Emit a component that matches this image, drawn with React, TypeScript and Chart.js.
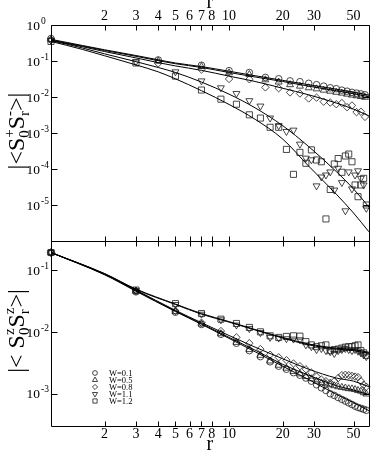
import React, { useEffect, useRef } from 'react';
import { Chart, registerables } from 'chart.js';

Chart.register(...registerables);

const FONT = '"Liberation Serif", "DejaVu Serif", "Times New Roman", serif';

// ---- axes / tick labels ----
const X_TICKS = [2, 3, 4, 5, 6, 7, 8, 10, 20, 30, 50];
const TOP_DECADES = [1, 0.1, 0.01, 0.001, 0.0001, 0.00001];
const TOP_EXP = ['0', '-1', '-2', '-3', '-4', '-5'];
const BOT_DECADES = [0.1, 0.01, 0.001];
const BOT_EXP = ['-1', '-2', '-3'];
const LEGEND_LABELS = ['W=0.1', 'W=0.5', 'W=0.8', 'W=1.1', 'W=1.2'];

// ---- r grids ----
const R_STEP3 = [1, 4, 7, 10, 13, 16, 19, 22, 25, 28, 31, 34, 37, 40, 43, 46, 49, 52, 55, 58];
const R_ODD = [1, 3, 5, 7, 9, 11, 13, 15, 17, 19, 21, 23, 25, 27, 29, 31, 33, 35, 37, 39, 41, 43, 45, 47, 49, 51, 53, 55, 57, 59];
const R_FIT_TOP = [1, 1.5, 2, 3, 4, 5, 7, 10, 14, 20, 28, 40, 50, 61];
const R_FIT_BOT = [1, 2, 3, 5, 7, 10, 14, 20, 28, 40, 50, 61];

// ---- top panel: |<S+_0 S-_r>| ----
const TOP_W01 = [0.42, 0.107, 0.076, 0.054, 0.048, 0.035, 0.032, 0.028, 0.0266, 0.024, 0.022, 0.020, 0.018, 0.017, 0.0155, 0.0145, 0.0135, 0.0128, 0.0122, 0.0115];
const TOP_W05 = [0.39, 0.100, 0.070, 0.047, 0.042, 0.030, 0.026, 0.022, 0.020, 0.018, 0.0168, 0.0155, 0.0145, 0.0135, 0.0128, 0.012, 0.0113, 0.0108, 0.0103, 0.0098];
const TOP_W08 = [0.38, 0.086, 0.058, 0.0316, 0.031, 0.0185, 0.0175, 0.0134, 0.0125, 0.0091, 0.0096, 0.0074, 0.0070, 0.0063, 0.0068, 0.0052, 0.0058, 0.0038, 0.0039, 0.0028];
const TOP_W11 = [0.38, 0.096, 0.050, 0.028, 0.018, 0.0125, 0.0079, 0.0056, 0.0026, 0.0016, 0.0011, 0.0012, 0.00049, 0.00020, 0.00018, 0.000034, 0.00006, 0.000068, 0.000083, 0.000026, 0.000105, 0.000042, 0.0000069, 0.000083, 0.000028, 0.000068, 0.000089, 0.000055, 0.000036, 0.0000081];
const TOP_W12 = [0.35, 0.088, 0.038, 0.0156, 0.0087, 0.0063, 0.0032, 0.0026, 0.00144, 0.00144, 0.00035, 0.000071, 0.00029, 0.000144, 0.00034, 0.000178, 0.000159, 0.0000041, 0.000027, 0.000138, 0.000195, 0.000081, 0.00023, 0.00026, 0.000159, 0.000036, 0.000017, 0.000036, 0.000055, 0.00001];

const FIT_TOP_W01 = [0.40, 0.27, 0.205, 0.142, 0.108, 0.088, 0.070, 0.052, 0.039, 0.029, 0.022, 0.0165, 0.0135, 0.0113];
const FIT_TOP_W05 = [0.38, 0.26, 0.196, 0.135, 0.102, 0.084, 0.066, 0.048, 0.036, 0.027, 0.020, 0.015, 0.0123, 0.0102];
const FIT_TOP_W08 = [0.37, 0.25, 0.183, 0.122, 0.090, 0.073, 0.055, 0.038, 0.027, 0.0175, 0.0115, 0.0068, 0.0046, 0.0030];
const FIT_TOP_W11 = [0.37, 0.23, 0.158, 0.096, 0.066, 0.048, 0.026, 0.012, 0.005, 0.0016, 0.00042, 0.000085, 0.000028, 0.0000088];
const FIT_TOP_W12 = [0.35, 0.21, 0.14, 0.078, 0.050, 0.032, 0.015, 0.0062, 0.0024, 0.00068, 0.00012, 0.00002, 0.000006, 0.0000018];

// ---- bottom panel: |<Sz_0 Sz_r>| ----
const BOT_W01 = [0.195, 0.045, 0.021, 0.0133, 0.0092, 0.0066, 0.0050, 0.0040, 0.0033, 0.0028, 0.0025, 0.0022, 0.0020, 0.0018, 0.0016, 0.0014, 0.00125, 0.00113, 0.00100, 0.00094, 0.00087, 0.00081, 0.00076, 0.00071, 0.00067, 0.00063, 0.00060, 0.00058, 0.00056, 0.00054];
const BOT_W05 = [0.195, 0.046, 0.0215, 0.0135, 0.0094, 0.0068, 0.0052, 0.0042, 0.0034, 0.0029, 0.0026, 0.0023, 0.0021, 0.0019, 0.00175, 0.0016, 0.0015, 0.00145, 0.0014, 0.00135, 0.0013, 0.00127, 0.00124, 0.00121, 0.0012, 0.00117, 0.00113, 0.0011, 0.00104, 0.00099];
const BOT_W08 = [0.195, 0.047, 0.022, 0.0142, 0.0104, 0.0082, 0.0066, 0.0053, 0.0043, 0.0039, 0.0035, 0.0031, 0.0028, 0.0025, 0.0022, 0.0019, 0.0017, 0.0016, 0.0015, 0.0016, 0.0018, 0.0020, 0.00203, 0.0020, 0.00195, 0.0019, 0.00186, 0.0016, 0.0014, 0.0013];
const BOT_W11 = [0.195, 0.047, 0.028, 0.0195, 0.0158, 0.0130, 0.0114, 0.0098, 0.0082, 0.0080, 0.0078, 0.0077, 0.0075, 0.0062, 0.0058, 0.0052, 0.0054, 0.0050, 0.0048, 0.0045, 0.0050, 0.0052, 0.0054, 0.0052, 0.0050, 0.0052, 0.0049, 0.0046, 0.0043, 0.0040];
const BOT_W12 = [0.195, 0.048, 0.029, 0.020, 0.0162, 0.0138, 0.0119, 0.0101, 0.0087, 0.0082, 0.0085, 0.0087, 0.0086, 0.0070, 0.0062, 0.0058, 0.0060, 0.0062, 0.0050, 0.0052, 0.0053, 0.0055, 0.0057, 0.0058, 0.0058, 0.0060, 0.0062, 0.0050, 0.0046, 0.0042];

const FIT_BOT_W01 = [0.195, 0.085, 0.046, 0.0215, 0.0134, 0.0079, 0.0048, 0.0028, 0.0017, 0.00098, 0.00072, 0.00053];
const FIT_BOT_W05 = [0.195, 0.086, 0.047, 0.022, 0.0137, 0.0082, 0.0051, 0.0030, 0.0020, 0.00135, 0.00115, 0.00097];
const FIT_BOT_W08 = [0.195, 0.087, 0.048, 0.0225, 0.0142, 0.0088, 0.0057, 0.0037, 0.0025, 0.0018, 0.0016, 0.0013];
const FIT_BOT_W11 = [0.195, 0.088, 0.049, 0.028, 0.0195, 0.0145, 0.0108, 0.0080, 0.0062, 0.0053, 0.0050, 0.0045];
const FIT_BOT_W12 = [0.195, 0.089, 0.050, 0.0285, 0.020, 0.0148, 0.011, 0.0082, 0.0064, 0.0055, 0.0052, 0.0047];

// marker styles (per W)
const STYLES = ['circle', 'triangle', 'rectRot', 'triangle', 'rect'];
const ROTS = [0, 0, 0, 180, 0];
const RADII = [3.3, 4, 3.7, 4, 4.3];

const zip = (xs: number[], ys: number[]) => xs.map((x, i) => ({ x, y: ys[i] }));

function markerDs(label: string, xs: number[], ys: number[], k: number, yAxisID: string) {
  return {
    label,
    data: zip(xs, ys),
    showLine: false,
    pointStyle: STYLES[k],
    pointRotation: ROTS[k],
    pointRadius: RADII[k],
    pointBorderWidth: 0.8,
    pointBorderColor: '#1a1a1a',
    pointBackgroundColor: 'rgba(0,0,0,0)',
    borderColor: '#1a1a1a',
    backgroundColor: 'rgba(0,0,0,0)',
    xAxisID: 'x',
    yAxisID,
    clip: false as const,
  };
}

function fitDs(label: string, xs: number[], ys: number[], yAxisID: string) {
  return {
    label,
    data: zip(xs, ys),
    showLine: true,
    pointRadius: 0,
    borderWidth: 1,
    borderColor: '#000',
    backgroundColor: 'rgba(0,0,0,0)',
    cubicInterpolationMode: 'monotone' as const,
    xAxisID: 'x',
    yAxisID,
  };
}

function drawMarker(ctx: CanvasRenderingContext2D, k: number, x: number, y: number, r: number) {
  ctx.beginPath();
  if (k === 0) {
    ctx.arc(x, y, r, 0, Math.PI * 2);
  } else if (k === 1 || k === 3) {
    const s = k === 1 ? 1 : -1;
    for (let i = 0; i < 3; i++) {
      const a = (i * 2 * Math.PI) / 3;
      const px = x + Math.sin(a) * r;
      const py = y - s * Math.cos(a) * r;
      if (i === 0) ctx.moveTo(px, py); else ctx.lineTo(px, py);
    }
    ctx.closePath();
  } else if (k === 2) {
    ctx.moveTo(x, y - r); ctx.lineTo(x + r, y); ctx.lineTo(x, y + r); ctx.lineTo(x - r, y); ctx.closePath();
  } else {
    const h = r * Math.SQRT1_2;
    ctx.rect(x - h, y - h, 2 * h, 2 * h);
  }
  ctx.stroke();
}

type Part = { t: string; s: number; dy?: number; g?: number };

function drawRotatedRich(ctx: CanvasRenderingContext2D, cx: number, cy: number, parts: Part[]) {
  const items: { p: Part; w: number; x: number }[] = [];
  let pos = 0;
  let i = 0;
  while (i < parts.length) {
    const p = parts[i];
    if (p.g !== undefined) {
      const grp: Part[] = [];
      let j = i;
      while (j < parts.length && parts[j].g === p.g) { grp.push(parts[j]); j++; }
      let maxW = 0;
      for (const q of grp) {
        ctx.font = `${q.s}px ${FONT}`;
        const w = ctx.measureText(q.t).width;
        items.push({ p: q, w, x: pos });
        maxW = Math.max(maxW, w);
      }
      pos += maxW;
      i = j;
    } else {
      ctx.font = `${p.s}px ${FONT}`;
      const w = ctx.measureText(p.t).width;
      items.push({ p, w, x: pos });
      pos += w;
      i++;
    }
  }
  ctx.save();
  ctx.translate(cx, cy);
  ctx.rotate(-Math.PI / 2);
  ctx.textAlign = 'left';
  ctx.textBaseline = 'alphabetic';
  for (const it of items) {
    ctx.font = `${it.p.s}px ${FONT}`;
    ctx.fillText(it.p.t, it.x - pos / 2, it.p.dy || 0);
  }
  ctx.restore();
}

const decoPlugin = {
  id: 'deco',
  afterDraw(chart: any) {
    const ctx: CanvasRenderingContext2D = chart.ctx;
    const xs = chart.scales.x;
    const yt = chart.scales.yt;
    const yb = chart.scales.yb;
    const { left, right, top, bottom } = chart.chartArea;
    const sep = yt.bottom;
    const c = (v: number) => Math.round(v) + 0.5;
    ctx.save();
    ctx.strokeStyle = '#000';
    ctx.fillStyle = '#000';
    ctx.lineWidth = 1;
    // frame
    ctx.beginPath();
    ctx.moveTo(c(left), c(top)); ctx.lineTo(c(right), c(top));
    ctx.lineTo(c(right), c(bottom)); ctx.lineTo(c(left), c(bottom)); ctx.closePath();
    ctx.moveTo(c(left), c(sep)); ctx.lineTo(c(right), c(sep));
    // x ticks
    for (const v of X_TICKS) {
      const X = c(xs.getPixelForValue(v));
      ctx.moveTo(X, c(top)); ctx.lineTo(X, c(top) + 5);
      ctx.moveTo(X, c(sep) - 5); ctx.lineTo(X, c(sep) + 5);
      ctx.moveTo(X, c(bottom)); ctx.lineTo(X, c(bottom) - 5);
    }
    // y ticks
    for (const v of TOP_DECADES) {
      const Y = c(yt.getPixelForValue(v));
      ctx.moveTo(c(left), Y); ctx.lineTo(c(left) + 6, Y);
      ctx.moveTo(c(right), Y); ctx.lineTo(c(right) - 6, Y);
    }
    for (const v of BOT_DECADES) {
      const Y = c(yb.getPixelForValue(v));
      ctx.moveTo(c(left), Y); ctx.lineTo(c(left) + 6, Y);
      ctx.moveTo(c(right), Y); ctx.lineTo(c(right) - 6, Y);
    }
    ctx.stroke();

    // y tick labels 10^n
    const drawPow = (Y: number, e: string) => {
      ctx.font = `13.5px ${FONT}`;
      ctx.textAlign = 'right';
      ctx.textBaseline = 'alphabetic';
      ctx.fillText('10', left - 11, Y + 4.5);
      ctx.font = `9.5px ${FONT}`;
      ctx.textAlign = 'left';
      ctx.fillText(e, left - 10, Y - 1.5);
    };
    TOP_DECADES.forEach((v, i) => drawPow(yt.getPixelForValue(v), TOP_EXP[i]));
    BOT_DECADES.forEach((v, i) => drawPow(yb.getPixelForValue(v), BOT_EXP[i]));

    // axis titles "r"
    ctx.font = `20px ${FONT}`;
    ctx.textAlign = 'center';
    ctx.textBaseline = 'alphabetic';
    const mid = (left + right) / 2;
    ctx.fillText('r', mid, 8);
    ctx.fillText('r', mid, 450);

    // y titles
    drawRotatedRich(ctx, 24, 131, [
      { t: '|<S', s: 24 },
      { t: '+', s: 15, dy: -10, g: 1 },
      { t: '0', s: 15, dy: 5, g: 1 },
      { t: 'S', s: 24 },
      { t: '-', s: 15, dy: -10, g: 2 },
      { t: 'r', s: 15, dy: 5, g: 2 },
      { t: '>|', s: 24 },
    ]);
    drawRotatedRich(ctx, 24, 331, [
      { t: '|< S', s: 24 },
      { t: 'z', s: 15, dy: -10, g: 1 },
      { t: '0', s: 15, dy: 5, g: 1 },
      { t: 'S', s: 24 },
      { t: 'z', s: 15, dy: -10, g: 2 },
      { t: 'r', s: 15, dy: 5, g: 2 },
      { t: '>|', s: 24 },
    ]);

    // legend
    ctx.lineWidth = 0.8;
    ctx.strokeStyle = '#1a1a1a';
    ctx.font = `8.5px ${FONT}`;
    ctx.textAlign = 'left';
    ctx.textBaseline = 'middle';
    LEGEND_LABELS.forEach((lab, k) => {
      const Y = 373 + k * 7;
      drawMarker(ctx, k, 95, Y, k === 0 ? 2.4 : k === 2 ? 2.6 : 3);
      ctx.fillText(lab, 109, Y + 0.5);
    });
    ctx.restore();
  },
};

const xAxis = (position: 'top' | 'bottom') => ({
  type: 'logarithmic' as const,
  position,
  min: 1,
  max: 61,
  bounds: 'data' as const,
  grid: { display: false, drawTicks: false },
  border: { display: false },
  afterBuildTicks: (s: any) => { s.ticks = X_TICKS.map((v) => ({ value: v })); },
  afterFit: (s: any) => { s.height = 25; },
  ticks: {
    autoSkip: false,
    maxRotation: 0,
    minRotation: 0,
    padding: 0,
    color: '#000',
    font: { family: FONT, size: 14 },
    callback: (v: any) => String(v),
  },
});

export default function App() {
  const ref = useRef<HTMLCanvasElement | null>(null);
  useEffect(() => {
    if (!ref.current) return;
    const datasets: any[] = [
      fitDs('fit top W=0.1', R_FIT_TOP, FIT_TOP_W01, 'yt'),
      fitDs('fit top W=0.5', R_FIT_TOP, FIT_TOP_W05, 'yt'),
      fitDs('fit top W=0.8', R_FIT_TOP, FIT_TOP_W08, 'yt'),
      fitDs('fit top W=1.1', R_FIT_TOP, FIT_TOP_W11, 'yt'),
      fitDs('fit top W=1.2', R_FIT_TOP, FIT_TOP_W12, 'yt'),
      fitDs('fit bot W=0.1', R_FIT_BOT, FIT_BOT_W01, 'yb'),
      fitDs('fit bot W=0.5', R_FIT_BOT, FIT_BOT_W05, 'yb'),
      fitDs('fit bot W=0.8', R_FIT_BOT, FIT_BOT_W08, 'yb'),
      fitDs('fit bot W=1.1', R_FIT_BOT, FIT_BOT_W11, 'yb'),
      fitDs('fit bot W=1.2', R_FIT_BOT, FIT_BOT_W12, 'yb'),
      markerDs('W=0.1', R_STEP3, TOP_W01, 0, 'yt'),
      markerDs('W=0.5', R_STEP3, TOP_W05, 1, 'yt'),
      markerDs('W=0.8', R_STEP3, TOP_W08, 2, 'yt'),
      markerDs('W=1.1', R_ODD, TOP_W11, 3, 'yt'),
      markerDs('W=1.2', R_ODD, TOP_W12, 4, 'yt'),
      markerDs('W=0.1 z', R_ODD, BOT_W01, 0, 'yb'),
      markerDs('W=0.5 z', R_ODD, BOT_W05, 1, 'yb'),
      markerDs('W=0.8 z', R_ODD, BOT_W08, 2, 'yb'),
      markerDs('W=1.1 z', R_ODD, BOT_W11, 3, 'yb'),
      markerDs('W=1.2 z', R_ODD, BOT_W12, 4, 'yb'),
    ];
    const chart = new Chart(ref.current, {
      type: 'scatter',
      data: { datasets },
      options: {
        animation: false,
        responsive: false,
        devicePixelRatio: 1,
        layout: { padding: { left: 0, right: 2, top: 0, bottom: 0 } },
        plugins: { legend: { display: false }, tooltip: { enabled: false } },
        scales: {
          x: xAxis('bottom'),
          x2: xAxis('top'),
          yb: {
            type: 'logarithmic',
            position: 'left',
            stack: 'v',
            stackWeight: 185,
            min: 0.0003,
            max: 0.3,
            bounds: 'data',
            ticks: { display: false },
            grid: { display: false, drawTicks: false },
            border: { display: false },
            afterFit: (s: any) => { s.width = 51; },
          },
          yt: {
            type: 'logarithmic',
            position: 'left',
            stack: 'v',
            stackWeight: 216,
            min: 0.000001,
            max: 1,
            bounds: 'data',
            ticks: { display: false },
            grid: { display: false, drawTicks: false },
            border: { display: false },
            afterFit: (s: any) => { s.width = 51; },
          },
        } as any,
      },
      plugins: [decoPlugin],
    });
    return () => chart.destroy();
  }, []);
  return (
    <div style={{ position: 'fixed', left: 0, top: 0, width: 374, height: 451, background: '#fff' }}>
      <canvas ref={ref} width={374} height={451} style={{ display: 'block' }} />
    </div>
  );
}
